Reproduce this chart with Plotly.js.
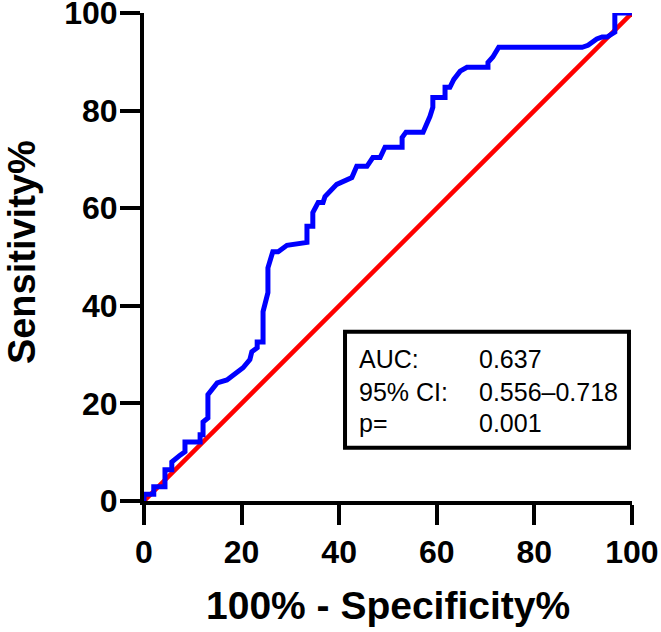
<!DOCTYPE html>
<html>
<head>
<meta charset="utf-8">
<script src="https://cdn.plot.ly/plotly-3.0.1.min.js"></script>
<style>
  html, body { margin: 0; padding: 0; background: #fff; }
  #chart { width: 661px; height: 632px; }
</style>
</head>
<body>
<div id="chart"></div>
<script>
// ROC curve: 100% - Specificity% (x) against Sensitivity% (y)
const fpr = [0, 0, 2.0, 2.0, 4.3, 4.3, 5.7, 5.7, 7.4, 8.4,
  8.4, 11.5, 11.5, 12.1, 12.1, 13.1, 13.1, 15.0, 17.0, 20.3,
  21.7, 22.1, 23.2, 23.2, 24.4, 24.4, 25.4, 25.4, 26.4, 27.5,
  29.3, 33.4, 33.4, 34.6, 34.6, 35.7, 36.7, 37.1, 39.5, 41.8,
  42.6, 43.6, 45.7, 46.9, 48.4, 49.4, 52.9, 52.9, 53.7, 57.2,
  58.2, 58.6, 59.2, 59.2, 61.7, 61.7, 62.7, 63.5, 64.8, 66.2,
  70.5, 70.5, 71.5, 72.7, 89.8, 91.0, 92.8, 93.9, 94.9, 96.5,
  96.5, 100];
const tpr = [0, 1.4, 1.4, 2.9, 2.9, 6.4, 6.4, 8.0, 9.4, 10.1,
  12.1, 12.1, 13.6, 13.6, 16.2, 17.0, 21.8, 24.2, 24.8, 27.3,
  29.0, 30.6, 31.4, 32.6, 32.6, 38.8, 42.7, 47.8, 51.1, 51.1,
  52.4, 53.0, 56.3, 56.3, 59.1, 61.2, 61.2, 62.4, 64.9, 65.9,
  66.3, 68.6, 68.6, 70.4, 70.4, 72.5, 72.5, 74.5, 75.6, 75.6,
  77.6, 78.8, 80.7, 82.7, 82.7, 84.8, 84.8, 86.4, 88.1, 88.9,
  88.9, 89.9, 91.0, 93.0, 93.0, 93.4, 94.7, 95.1, 95.1, 96.1,
  100, 100];

// Line of no discrimination
const refX = [0, 100];
const refY = [0, 100];

const tickVals = [0, 20, 40, 60, 80, 100];

// Summary statistics shown in the box
const statLabels = ["AUC:", "95% CI:", "p="];
const statValues = ["0.637", "0.556\u20130.718", "0.001"];
const statRowsY = [29.2, 22.4, 16.0];

const FONT = "Liberation Sans, Arial, Helvetica, sans-serif";

const traces = [
  {
    x: refX, y: refY, type: "scatter", mode: "lines",
    line: { color: "#ff0000", width: 4.5 },
    cliponaxis: false, hoverinfo: "skip"
  },
  {
    x: fpr, y: tpr, type: "scatter", mode: "lines",
    line: { color: "#0000ff", width: 5, shape: "linear" },
    cliponaxis: false, hoverinfo: "skip"
  }
];

const annotations = [];
statLabels.forEach((t, i) => {
  annotations.push({
    x: 43.6, y: statRowsY[i], xref: "x", yref: "y",
    text: t, showarrow: false, xanchor: "left", yanchor: "middle",
    font: { family: FONT, size: 25, color: "#000" }
  });
  annotations.push({
    x: 68.2, y: statRowsY[i], xref: "x", yref: "y",
    text: statValues[i], showarrow: false, xanchor: "left", yanchor: "middle",
    font: { family: FONT, size: 25, color: "#000" }
  });
});

// Axis titles
annotations.push({
  x: 0.5, y: -0.215, xref: "paper", yref: "paper",
  text: "100% - Specificity%", showarrow: false,
  xanchor: "center", yanchor: "middle",
  font: { family: FONT, size: 39, color: "#000", weight: "bold" }
});
annotations.push({
  x: -0.25, y: 0.51, xref: "paper", yref: "paper",
  text: "Sensitivity%", showarrow: false, textangle: -90,
  xanchor: "center", yanchor: "middle",
  font: { family: FONT, size: 38, color: "#000", weight: "bold" }
});

const axisCommon = {
  range: [0, 100.02],
  tickvals: tickVals,
  ticktext: tickVals.map(String),
  showgrid: false,
  zeroline: false,
  showline: true,
  linecolor: "#000",
  linewidth: 4,
  ticks: "outside",
  ticklen: 20,
  tickwidth: 4,
  tickcolor: "#000",
  ticklabeloverflow: "allow",
  tickfont: { family: FONT, size: 32, color: "#000", weight: "bold" },
  fixedrange: true
};

const layout = {
  width: 661,
  height: 632,
  margin: { l: 144, r: 29, t: 13, b: 131, pad: 0 },
  paper_bgcolor: "#fff",
  plot_bgcolor: "#fff",
  showlegend: false,
  xaxis: Object.assign({}, axisCommon),
  yaxis: Object.assign({}, axisCommon, { ticklabelstandoff: -4 }),
  shapes: [{
    type: "rect", xref: "x", yref: "y",
    x0: 41.2, x1: 99.4, y0: 10.9, y1: 34.7,
    line: { color: "#000", width: 4 },
    fillcolor: "#fff", layer: "above"
  }],
  annotations: annotations
};

Plotly.newPlot("chart", traces, layout, { displayModeBar: false, staticPlot: true });
</script>
</body>
</html>
